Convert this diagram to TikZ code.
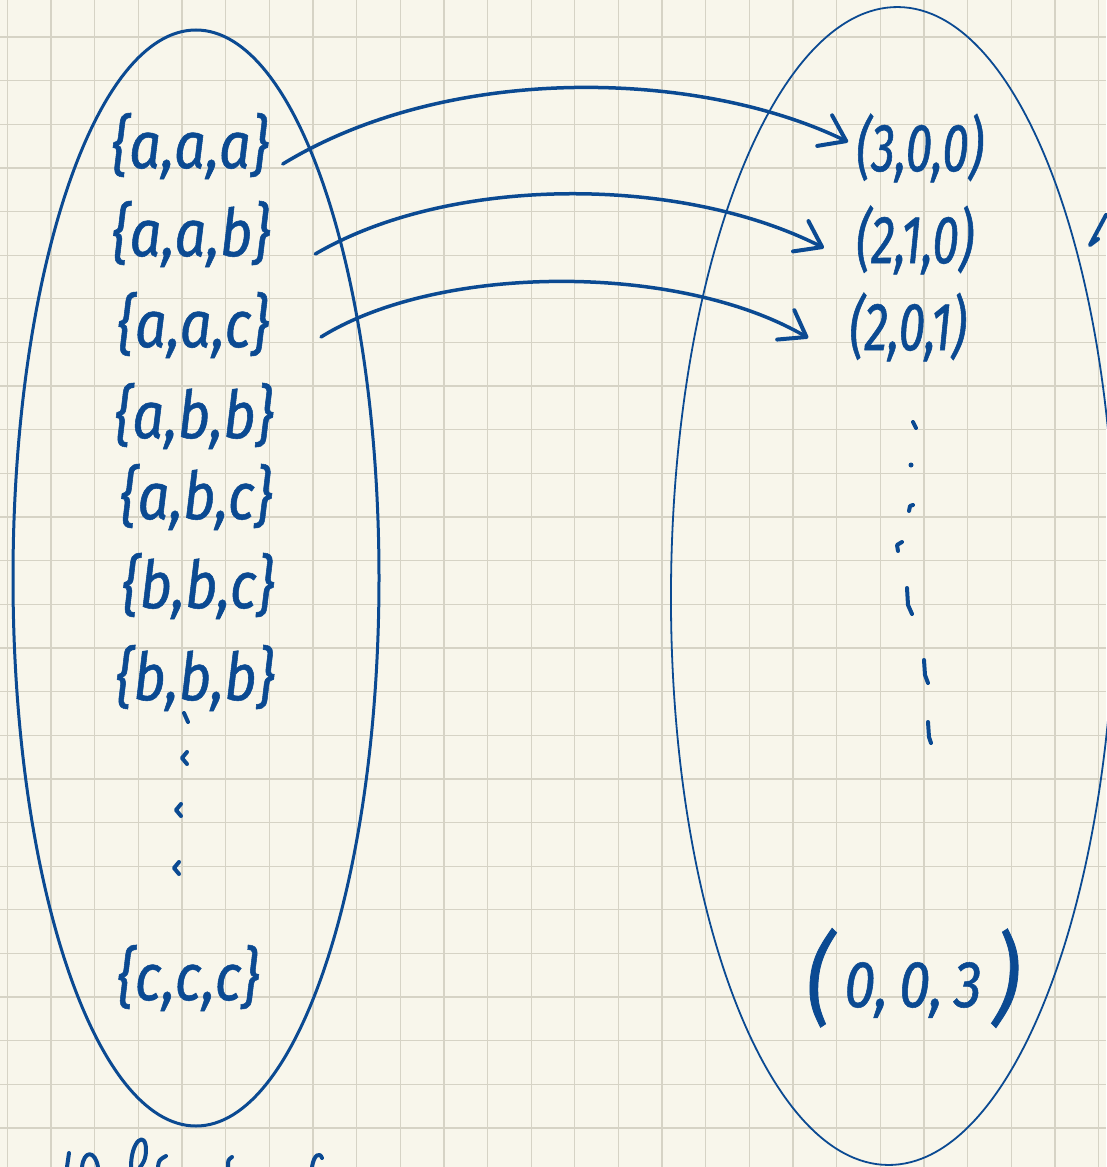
\documentclass[tikz,border=0pt]{standalone}
\usepackage{fontspec}
\newfontfamily\handL{Fira Sans}[FakeStretch=0.85, FakeBold=0.8]
\newfontfamily\handR{Fira Sans}[FakeStretch=0.7, FakeBold=0.8]
\usetikzlibrary{arrows.meta}

\definecolor{ink}{HTML}{0B4A92}
\definecolor{paper}{HTML}{F8F6EB}
\definecolor{gridline}{HTML}{D6D3C5}

\newcommand{\bigparen}[1]{{\fontsize{100}{100}\selectfont#1}}

\begin{document}
\begin{tikzpicture}[x=1pt, y=-1pt,
  >={Straight Barb[length=24pt, width=34pt, round, line width=4pt]},
  multiset/.style={font=\handL\itshape\fontsize{66}{66}\selectfont, text=ink, inner sep=0pt},
  triple/.style={font=\handR\itshape\fontsize{68}{68}\selectfont, text=ink, inner sep=0pt},
  map/.style={->, ink, line width=3.5pt, line cap=round},
  dotmark/.style={ink, line width=4pt, line cap=round, line join=round}]

  % squared paper
  \fill[paper] (0,0) rectangle (1106,1167);
  \useasboundingbox (0,0) rectangle (1106,1167);
  \foreach \k in {0,...,25} {
    \draw[gridline, line width=1.3pt] ({7.5+43.64*\k},0) -- ({7.5+43.64*\k},1167);
    \draw[gridline, line width=1.3pt] (0,{37+43.64*\k}) -- (1106,{37+43.64*\k});
  }

  % the two sets
  \draw[ink, line width=3pt] (196,578) ellipse [x radius=183pt, y radius=548pt];
  \draw[ink, line width=1.8pt, rotate around={-0.5:(893,586)}]
    (893,586) ellipse [x radius=222pt, y radius=579pt];

  % multisets of size 3
  \node[multiset] (aaa) at (190,146) {\{a,a,a\}};
  \node[multiset] (aab) at (191,234) {\{a,a,b\}};
  \node[multiset] (aac) at (193,325) {\{a,a,c\}};
  \node[multiset] (abb) at (194,416) {\{a,b,b\}};
  \node[multiset] (abc) at (196,497) {\{a,b,c\}};
  \node[multiset] (bbc) at (198,586) {\{b,b,c\}};
  \node[multiset] (bbb) at (195,678) {\{b,b,b\}};
  \node[multiset] (ccc) at (188,978) {\{c,c,c\}};

  % multiplicity vectors
  \node[triple] (p300) at (920,148) {(3,0,0)};
  \node[triple] (p210) at (915,240) {(2,1,0)};
  \node[triple] (p201) at (908,327) {(2,0,1)};
  \node[multiset] (p003) at (913,978)
    {\bigparen{(}\,\raisebox{6pt}{0,\,0,\,3}\,\bigparen{)}};

  % the map
  \draw[map] ([xshift=14pt, yshift=-18pt]aaa.east)
    .. controls (450,62) and (700,70) .. ([xshift=-8pt, yshift=6pt]p300.west);
  \draw[map] ([xshift=45pt, yshift=-20pt]aab.east)
    .. controls (450,175) and (680,175) .. ([xshift=-32pt, yshift=-8pt]p210.west);
  \draw[map] ([xshift=52pt, yshift=-12pt]aac.east)
    .. controls (440,263) and (680,263) .. ([xshift=-41pt, yshift=-11pt]p201.west);

  % dots on the left
  \draw[dotmark] (184,713) -- (188,722);
  \foreach \x/\y in {184/758, 178/810, 176/868}
    \draw[dotmark] (\x+3,\y-6) -- (\x-2,\y) -- (\x+3,\y+6);

  % dots on the right
  \draw[dotmark] (913,422) -- (916,428);
  \fill[ink] (911,465) circle (2.5pt);
  \draw[dotmark] (909,511) -- (910,506) -- (913,505);
  \draw[dotmark] (898,551) -- (897,545) -- (902,542);
  \draw[dotmark] (907,588) -- (908,605) -- (912,614);
  \draw[dotmark] (924,660) -- (925,675) -- (928,683);
  \draw[dotmark] (928,722) -- (929,737) -- (931,743);

  % writing cut off at the edges
  \draw[dotmark] (1106,215) -- (1090,245) -- (1098,239);
  \draw[dotmark] (67,1167) -- (69,1153);
  \draw[dotmark] (82,1167) .. controls (84,1150) and (95,1150) .. (98,1167);
  \draw[dotmark] (131,1167) .. controls (131,1140) and (146,1130) .. (146,1150)
    .. controls (146,1160) and (142,1165) .. (140,1167);
  \draw[dotmark] (166,1156) .. controls (159,1160) .. (158,1167);
  \draw[dotmark] (232,1157) .. controls (228,1160) .. (228,1167);
  \draw[dotmark] (322,1158) .. controls (320,1152) and (314,1154) .. (312,1167);
\end{tikzpicture}
\end{document}
